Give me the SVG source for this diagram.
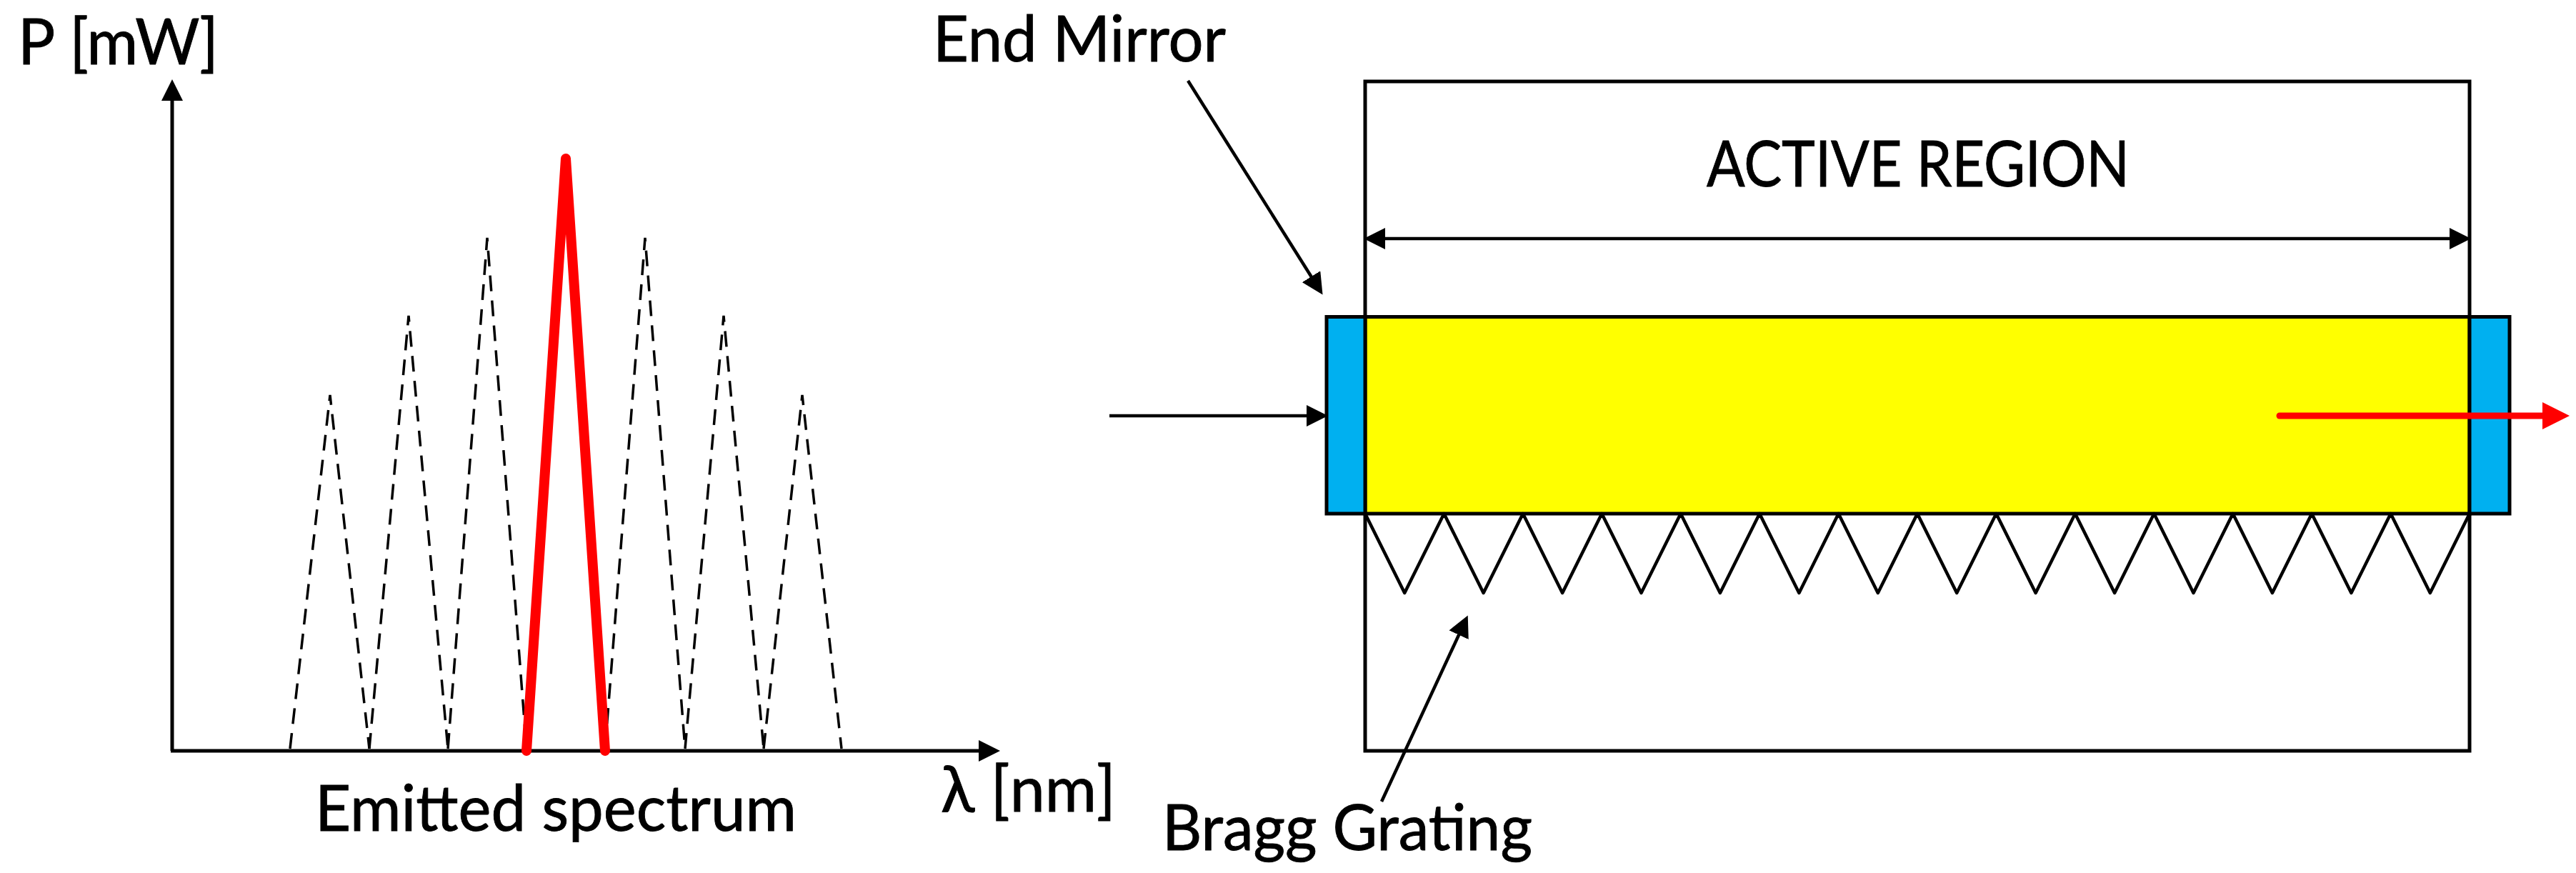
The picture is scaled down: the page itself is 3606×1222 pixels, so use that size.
<svg xmlns="http://www.w3.org/2000/svg" width="3606" height="1222" viewBox="0 0 3606 1222">
<style>
text{font-family:"Lato","Carlito","Open Sans",sans-serif;font-size:90px;fill:#000;stroke:#000;stroke-width:0.9}
.ln{fill:none;stroke:#000;stroke-width:5}
.thin{fill:none;stroke:#000;stroke-width:4.500}
.dash{fill:none;stroke:#000;stroke-width:3.500;stroke-dasharray:22 13}
.red{fill:none;stroke:#f00;stroke-width:14;stroke-linecap:round;stroke-linejoin:round}
</style>
<defs>
<marker id="ah" markerUnits="userSpaceOnUse" markerWidth="30" markerHeight="30" viewBox="0 0 30 30" refX="14" refY="15" orient="auto-start-reverse"><path d="M0 0L30 15L0 30z" fill="#000"/></marker>
<marker id="ahr" markerUnits="userSpaceOnUse" markerWidth="38" markerHeight="38" viewBox="0 0 38 38" refX="10" refY="19" orient="auto"><path d="M0 0L38 19L0 38z" fill="#f00"/></marker>
</defs>
<rect width="3606" height="1222" fill="#fff"/>
<g id="active-region-box"><rect class="ln" x="1911" y="114" width="1546" height="937"/></g>
<g id="active-region"><rect x="1911" y="443.500" width="1546" height="275.500" fill="#ff0" stroke="#000" stroke-width="5"/></g>
<g id="left-mirror"><rect x="1857" y="443.500" width="54" height="275.500" fill="#00b0f0" stroke="#000" stroke-width="5"/></g>
<g id="right-mirror"><rect x="3457" y="443.500" width="56" height="275.500" fill="#00b0f0" stroke="#000" stroke-width="5"/></g>
<g id="bragg-grating"><path class="thin" stroke-linejoin="round" d="M1911 719L1966.200 830L2021.400 719L2076.600 830L2131.900 719L2187.100 830L2242.300 719L2297.500 830L2352.700 719L2407.900 830L2463.100 719L2518.400 830L2573.600 719L2628.800 830L2684 719L2739.200 830L2794.400 719L2849.600 830L2904.900 719L2960.100 830L3015.300 719L3070.500 830L3125.700 719L3180.900 830L3236.100 719L3291.400 830L3346.600 719L3401.800 830L3457 719"/></g>
<g id="spectrum-modes">
<path class="dash" d="M406 1048L462 553L517 1048"/>
<path class="dash" d="M517 1048L572 442L627 1048"/>
<path class="dash" d="M627 1048L682 333L737 1048"/>
<path class="dash" d="M847 1048L903 333L959 1048"/>
<path class="dash" d="M959 1048L1013 442L1069 1048"/>
<path class="dash" d="M1069 1048L1123 553L1178 1048"/>
</g>
<g id="connectors">
<line class="ln" x1="241" y1="1051" x2="241" y2="127" marker-end="url(#ah)"/>
<line class="ln" x1="239" y1="1051" x2="1384" y2="1051" marker-end="url(#ah)"/>
<line class="thin" x1="1925" y1="334" x2="3443" y2="334" marker-start="url(#ah)" marker-end="url(#ah)"/>
<line class="thin" x1="1553" y1="582" x2="1843" y2="582" marker-end="url(#ah)"/>
<line class="thin" x1="1663" y1="113" x2="1843" y2="399" marker-end="url(#ah)"/>
<line class="thin" x1="1934" y1="1122" x2="2048" y2="876" marker-end="url(#ah)"/>
<line x1="3191" y1="582" x2="3569" y2="582" stroke="#f00" stroke-width="9" stroke-linecap="round" marker-end="url(#ahr)"/>
</g>
<g id="selected-mode"><path class="red" d="M737 1051L792 222L847 1051"/></g>
<g id="labels">
<text x="25" y="90" textLength="281" lengthAdjust="spacingAndGlyphs">P [mW]</text>
<text x="1306" y="86" textLength="410" lengthAdjust="spacingAndGlyphs">End Mirror</text>
<text x="2389" y="261" textLength="592" lengthAdjust="spacingAndGlyphs">ACTIVE REGION</text>
<text x="1317" y="1136" textLength="245" lengthAdjust="spacingAndGlyphs">λ [nm]</text>
<text x="441" y="1163" textLength="674" lengthAdjust="spacingAndGlyphs">Emitted spectrum</text>
<text x="1627" y="1190" textLength="518" lengthAdjust="spacingAndGlyphs">Bragg Grating</text>
</g>
</svg>
